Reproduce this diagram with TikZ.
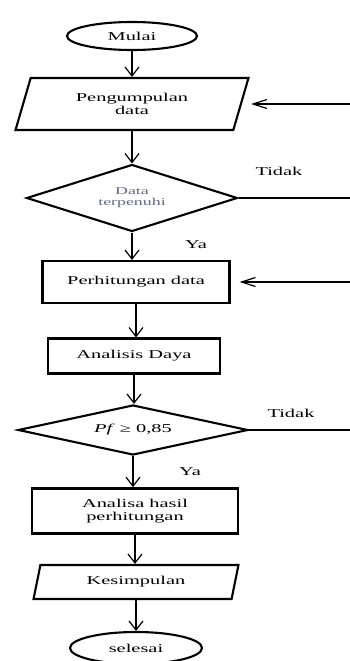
\documentclass[tikz,border=0pt]{standalone}
\usepackage{fontspec}
\setmainfont{Liberation Serif}[FakeStretch=1.7]
\usetikzlibrary{shapes.geometric,positioning,arrows.meta}

\begin{document}
\begin{tikzpicture}[x=1pt,y=1pt,on grid,node distance=70pt,
    font=\fontsize{12}{13}\selectfont,
    terminal/.style={ellipse,draw,line width=2.1pt,inner sep=0pt},
    io/.style={trapezium,trapezium stretches=true,draw,line width=2.1pt,align=center,inner sep=0pt},
    proses/.style={rectangle,draw,line width=2.1pt,align=center,inner sep=0pt},
    cabang/.style={diamond,draw,line width=2.1pt,align=center,inner sep=0pt},
    turun/.style={line width=1.2pt,-{Straight Barb[length=9pt,width=14pt,line width=1.2pt]}},
    masuk/.style={line width=1.2pt,-{Straight Barb[length=14pt,width=9pt,line width=1.2pt]},shorten >=9pt},
    garis/.style={line width=1.2pt}]
    \useasboundingbox (0,0) rectangle (350,-661);

    \node[terminal,minimum width=130pt,minimum height=28pt](mulai) at (132,-36){Mulai};
    \node[io,trapezium left angle=68.6,trapezium right angle=111.4,minimum width=233pt,minimum height=52pt](kumpul)[below=68pt of mulai]{Pengumpulan\\data};
    \node[cabang,aspect=3.15,minimum width=211pt,minimum height=67pt,font=\fontsize{10.5}{11}\selectfont,text={rgb,255:red,95;green,105;blue,140}](cek)[below=94pt of kumpul]{Data\\terpenuhi};
    \node[proses,minimum width=187pt,minimum height=42pt](hitung)[below right=84pt and 4pt of cek]{Perhitungan data};
    \node[proses,minimum width=172pt,minimum height=35pt](daya)[below left=74pt and 2pt of hitung]{Analisis Daya};
    \node[cabang,aspect=4.6,minimum width=230pt,minimum height=50pt](pf)[below left=74pt and 1pt of daya]{\textit{Pf} ≥ 0,85};
    \node[proses,line width=2.7pt,minimum width=206pt,minimum height=45pt](analisa)[below right=81pt and 2pt of pf]{Analisa hasil\\perhitungan};
    \node[io,trapezium left angle=72,trapezium right angle=108,minimum width=205pt,minimum height=34pt](simpul)[below right=71pt and 1pt of analisa]{Kesimpulan};
    \node[terminal,minimum width=132pt,minimum height=32pt](selesai)[below=66pt of simpul]{selesai};

    \node(tidak1) at (279,-171){Tidak};
    \node(ya1) at (196,-245){Ya};
    \node(tidak2) at (291,-413){Tidak};
    \node(ya2) at (190,-472){Ya};

    \coordinate (kanan) at (350,0);

    \draw[turun] (mulai.south) -- (mulai.south |- kumpul.north);
    \draw[turun] (kumpul.south) -- (kumpul.south |- cek.north);
    \draw[turun] (cek.south) -- (cek.south |- hitung.north);
    \draw[turun] (hitung.south) -- (hitung.south |- daya.north);
    \draw[turun] (daya.south) -- (daya.south |- pf.north);
    \draw[turun] (pf.south) -- (pf.south |- analisa.north);
    \draw[turun] (analisa.south) -- (analisa.south |- simpul.north);
    \draw[turun] (simpul.south) -- (simpul.south |- selesai.north);

    \draw[garis] (cek.east) -- (cek.east -| kanan);
    \draw[garis] (pf.east) -- (pf.east -| kanan);
    \draw[masuk] (kanan |- kumpul.east) -- (kumpul.east);
    \draw[masuk] (kanan |- hitung.east) -- (hitung.east);
\end{tikzpicture}
\end{document}
